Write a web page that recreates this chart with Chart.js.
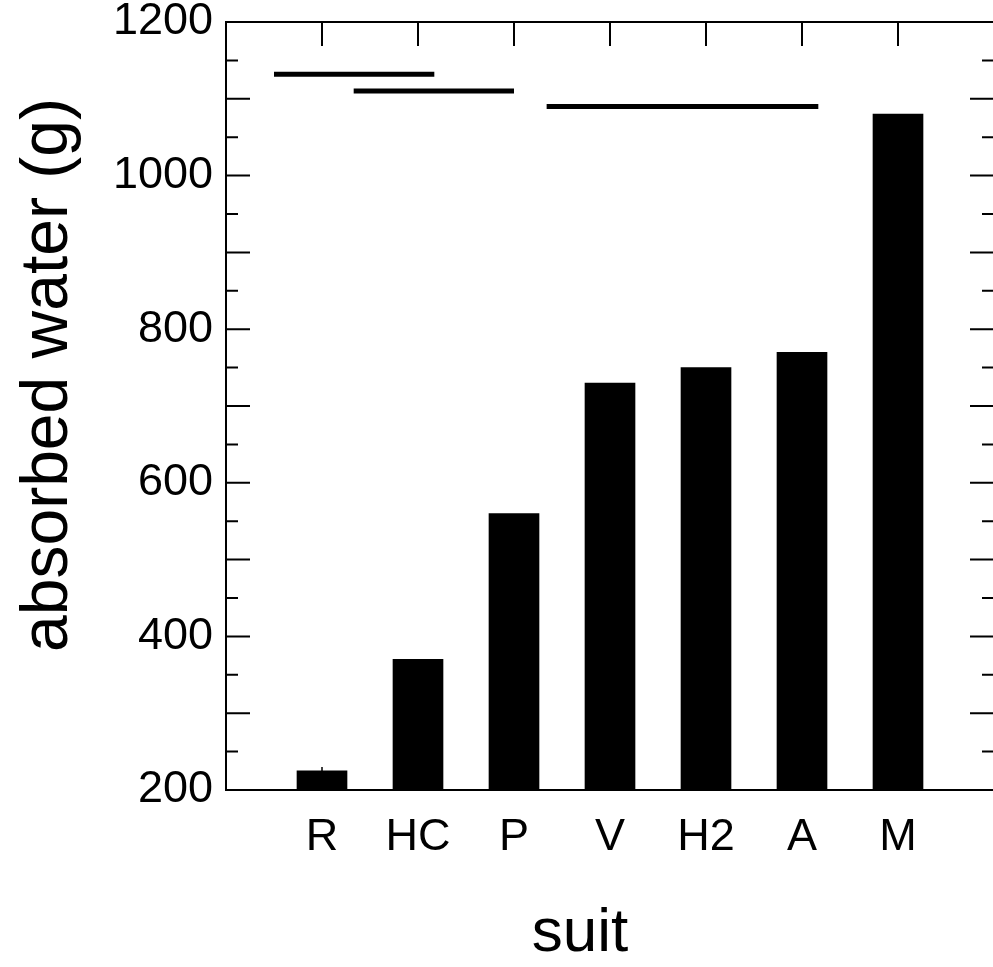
<!DOCTYPE html>
<html>
<head>
<meta charset="utf-8">
<script src="https://cdn.jsdelivr.net/npm/chart.js@4/dist/chart.umd.min.js"></script>
<style>
  html, body { margin: 0; padding: 0; background: #fff; overflow: hidden; }
  #wrap { width: 1000px; height: 967px; }
</style>
</head>
<body>
<div id="wrap"><canvas id="waterChart" width="1000" height="967"></canvas></div>
<script>
// suits along the x axis (positions 1..7, slots 0 and 8 stay empty)
var suits = ['R', 'HC', 'P', 'V', 'H2', 'A', 'M'];
var absorbedWater = [225, 370, 560, 730, 750, 770, 1080];
var errorWater = [5, null, null, null, null, null, null];

// horizontal "no significant difference" bars, in x-axis units
var sigStart = [0.5, 1.33, 3.34];
var sigEnd = [2.17, 3.0, 6.17];
var sigLevel = [1132, 1110, 1090];

var yTicks = [200, 400, 600, 800, 1000, 1200];

var xTitle = 'suit';
var yTitle = 'absorbed water (g)';

var font = 'Liberation Sans, Arial, Helvetica, sans-serif';

var barData = suits.map(function (s, i) {
    return { x: i + 1, y: absorbedWater[i] };
});

var datasets = [{
    type: 'bar',
    data: barData,
    backgroundColor: '#000',
    borderWidth: 0,
    barThickness: 50
}];

for (var i = 0; i < sigStart.length; i++) {
    datasets.push({
        type: 'line',
        data: [{ x: sigStart[i], y: sigLevel[i] }, { x: sigEnd[i], y: sigLevel[i] }],
        borderColor: '#000',
        borderWidth: 5,
        borderCapStyle: 'butt',
        pointRadius: 0,
        fill: false
    });
}

// frame with inward ticks on all sides, error bars and the axis titles
var framePlugin = {
    id: 'frame',
    afterDraw: function (chart) {
        var ctx = chart.ctx;
        var a = chart.chartArea;
        var xs = chart.scales.x;
        var ys = chart.scales.y;
        ctx.save();
        ctx.strokeStyle = '#000';

        // error bars
        ctx.lineWidth = 1.5;
        absorbedWater.forEach(function (v, i) {
            if (errorWater[i] == null) return;
            var px = xs.getPixelForValue(i + 1);
            ctx.beginPath();
            ctx.moveTo(px, ys.getPixelForValue(v - errorWater[i]));
            ctx.lineTo(px, ys.getPixelForValue(v + errorWater[i]));
            ctx.stroke();
        });

        ctx.lineWidth = 2;
        ctx.strokeRect(a.left, a.top, a.right - a.left, a.bottom - a.top);

        // y ticks every 50, long ones every 100
        for (var v = ys.min + 50; v < ys.max; v += 50) {
            var py = ys.getPixelForValue(v);
            var len = (v % 100 === 0) ? 24 : 12;
            ctx.beginPath();
            ctx.moveTo(a.left, py);
            ctx.lineTo(a.left + len, py);
            ctx.moveTo(a.right, py);
            ctx.lineTo(a.right - len, py);
            ctx.stroke();
        }
        // long ticks at top for every suit
        suits.forEach(function (s, i) {
            var px = xs.getPixelForValue(i + 1);
            ctx.beginPath();
            ctx.moveTo(px, a.top);
            ctx.lineTo(px, a.top + 24);
            ctx.stroke();
        });

        // axis titles (sit a little left / above the plot centre)
        ctx.fillStyle = '#000';
        ctx.textAlign = 'center';
        ctx.textBaseline = 'middle';
        ctx.font = '62px ' + font;
        ctx.fillText(xTitle, (a.left + a.right) / 2 - 30, 934);

        ctx.translate(49, (a.top + a.bottom) / 2 - 31);
        ctx.rotate(-Math.PI / 2);
        ctx.font = '66px ' + font;
        ctx.fillText(yTitle, 0, 0);
        ctx.restore();
    }
};

var ctx = document.getElementById('waterChart').getContext('2d');
var waterChart = new Chart(ctx, {
    data: { datasets: datasets },
    options: {
        responsive: false,
        animation: false,
        layout: { padding: { top: 22, right: 6, left: 0, bottom: 0 } },
        plugins: { legend: { display: false }, tooltip: { enabled: false } },
        scales: {
            x: {
                type: 'linear',
                offset: false,
                min: 0,
                max: suits.length + 1,
                grid: { display: false },
                border: { display: false },
                ticks: {
                    stepSize: 1,
                    autoSkip: false,
                    maxRotation: 0,
                    padding: 13,
                    color: '#000',
                    font: { family: font, size: 45 },
                    callback: function (value) {
                        return suits[value - 1] || '';
                    }
                },
                afterFit: function (scale) {
                    scale.height = 177;
                    scale.paddingLeft = 0;
                    scale.paddingRight = 0;
                }
            },
            y: {
                min: 200,
                max: 1200,
                grid: { display: false },
                border: { display: false },
                afterBuildTicks: function (scale) {
                    scale.ticks = yTicks.map(function (v) { return { value: v }; });
                },
                ticks: {
                    padding: 5,
                    color: '#000',
                    font: { family: font, size: 45 },
                    callback: function (value) { return String(value); }
                },
                afterFit: function (scale) {
                    scale.width = 226;
                    scale.paddingTop = 0;
                    scale.paddingBottom = 0;
                }
            }
        }
    },
    plugins: [framePlugin]
});
</script>
</body>
</html>
